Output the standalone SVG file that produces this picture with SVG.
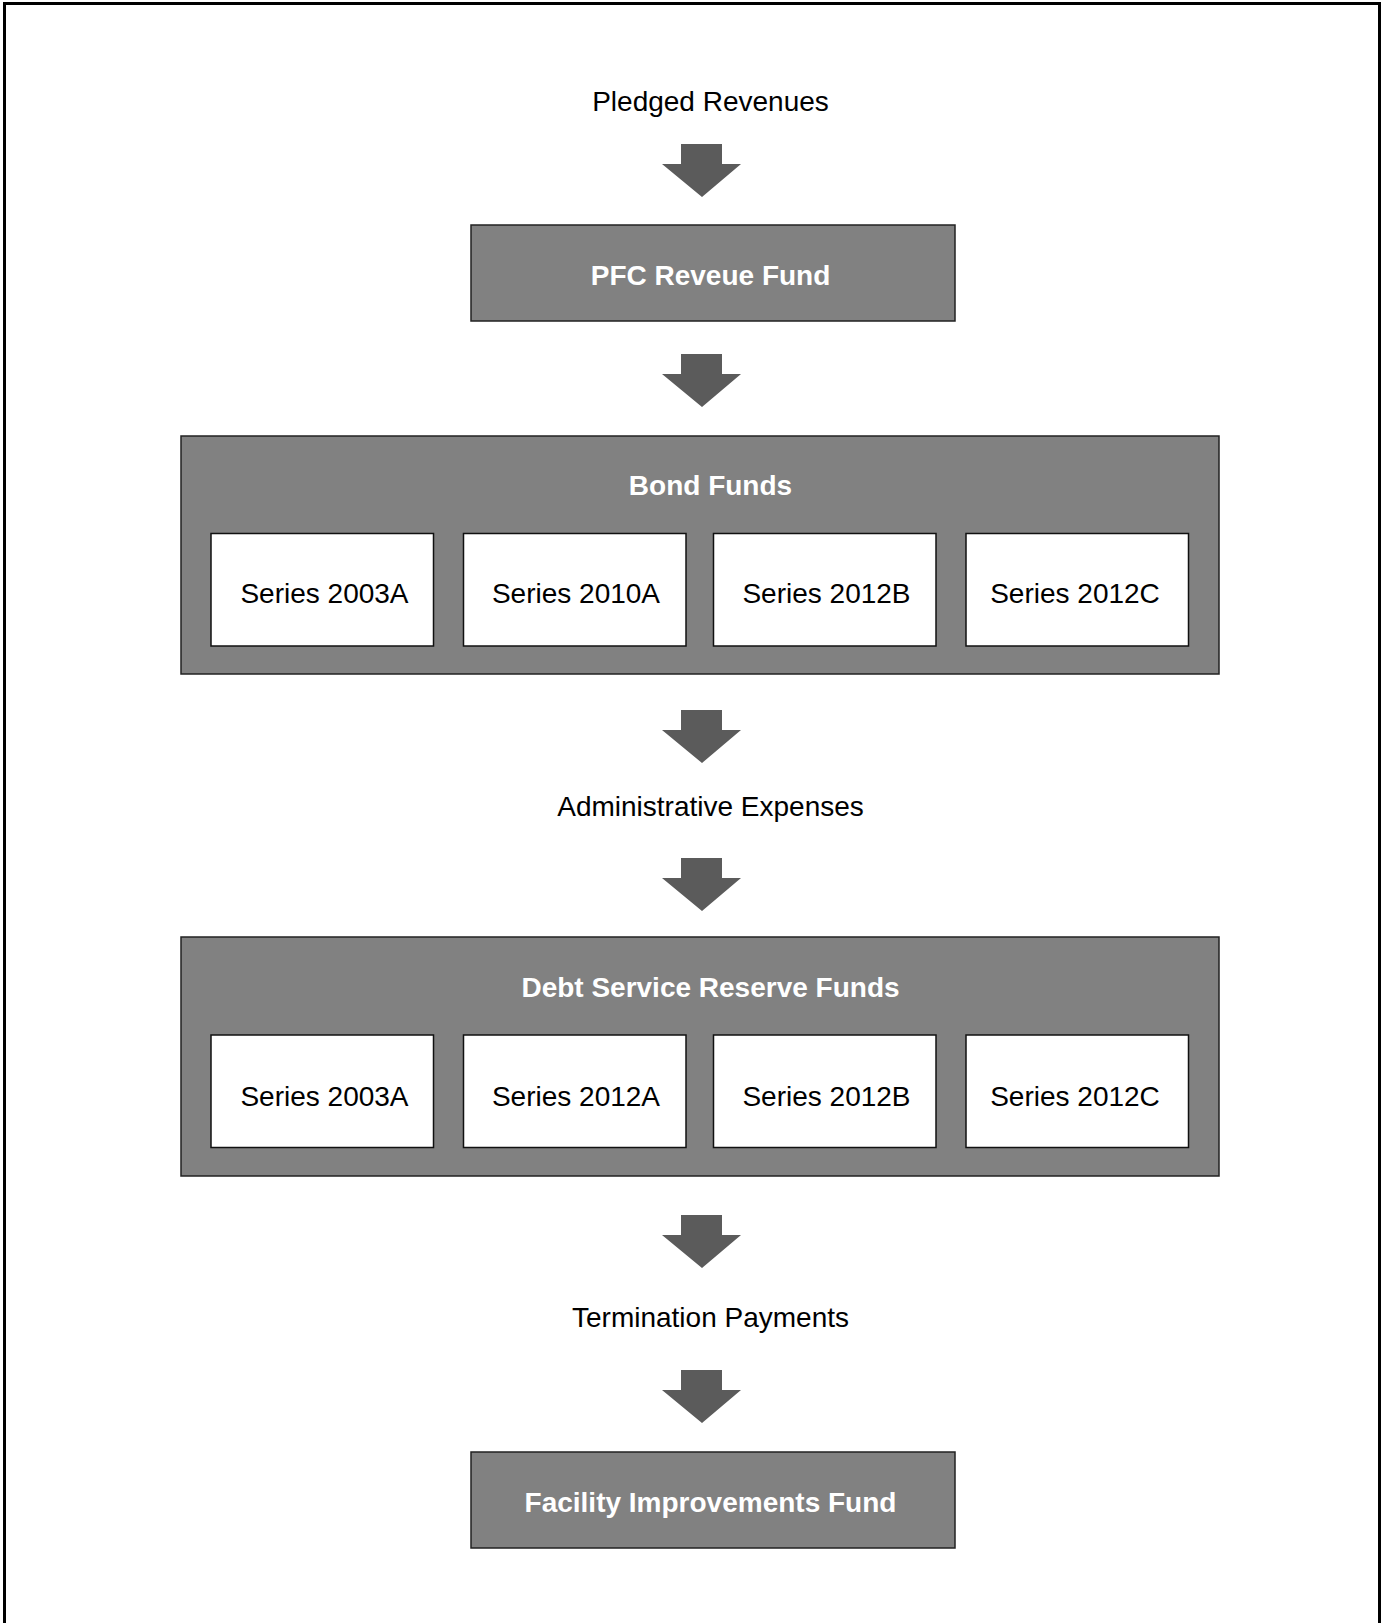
<svg xmlns="http://www.w3.org/2000/svg" xmlns:xlink="http://www.w3.org/1999/xlink" width="1381" height="1623" viewBox="0 0 1381 1623">
  <style>
    .frame { fill: #ffffff; stroke: #000000; stroke-width: 3; }
    .fund { fill: #818181; stroke: #222222; stroke-width: 1.5; }
    .series { fill: #ffffff; stroke: #111111; stroke-width: 1.5; }
    .lbl { font-family: "Liberation Sans", Arial, sans-serif; font-size: 28px; fill: #000000; text-anchor: middle; }
    .title { font-family: "Liberation Sans", Arial, sans-serif; font-size: 28px; font-weight: bold; fill: #ffffff; text-anchor: middle; }
    .arrow { fill: #5b5b5b; }
  </style>
  <defs>
    <path id="downArrow" class="arrow" d="M -21 0 L 20 0 L 20 20 L 39 20 L 0 53 L -40 20 L -21 20 Z"/>
  </defs>

  <rect class="frame" x="4.5" y="3.5" width="1375" height="1640"/>

  <g id="pledged-revenues">
    <text class="lbl" x="710.5" y="111">Pledged Revenues</text>
  </g>

  <g id="pfc-revenue-fund">
    <rect class="fund" x="471" y="225" width="484" height="96"/>
    <text class="title" x="710.5" y="285">PFC Reveue Fund</text>
  </g>

  <g id="bond-funds">
    <rect class="fund" x="181" y="436" width="1038" height="238"/>
    <text class="title" x="710.5" y="495">Bond Funds</text>
    <g id="bond-2003A">
      <rect class="series" x="211" y="533.5" width="222.5" height="112.5"/>
      <text class="lbl" x="324.5" y="603">Series 2003A</text>
    </g>
    <g id="bond-2010A">
      <rect class="series" x="463.5" y="533.5" width="222.5" height="112.5"/>
      <text class="lbl" x="576" y="603">Series 2010A</text>
    </g>
    <g id="bond-2012B">
      <rect class="series" x="713.5" y="533.5" width="222.5" height="112.5"/>
      <text class="lbl" x="826.5" y="603">Series 2012B</text>
    </g>
    <g id="bond-2012C">
      <rect class="series" x="966" y="533.5" width="222.5" height="112.5"/>
      <text class="lbl" x="1075" y="603">Series 2012C</text>
    </g>
  </g>

  <g id="administrative-expenses">
    <text class="lbl" x="710.5" y="816">Administrative Expenses</text>
  </g>

  <g id="debt-service-reserve-funds">
    <rect class="fund" x="181" y="937" width="1038" height="239"/>
    <text class="title" x="710.5" y="997">Debt Service Reserve Funds</text>
    <g id="dsr-2003A">
      <rect class="series" x="211" y="1035" width="222.5" height="112.5"/>
      <text class="lbl" x="324.5" y="1105.5">Series 2003A</text>
    </g>
    <g id="dsr-2012A">
      <rect class="series" x="463.5" y="1035" width="222.5" height="112.5"/>
      <text class="lbl" x="576" y="1105.5">Series 2012A</text>
    </g>
    <g id="dsr-2012B">
      <rect class="series" x="713.5" y="1035" width="222.5" height="112.5"/>
      <text class="lbl" x="826.5" y="1105.5">Series 2012B</text>
    </g>
    <g id="dsr-2012C">
      <rect class="series" x="966" y="1035" width="222.5" height="112.5"/>
      <text class="lbl" x="1075" y="1105.5">Series 2012C</text>
    </g>
  </g>

  <g id="termination-payments">
    <text class="lbl" x="710.5" y="1327">Termination Payments</text>
  </g>

  <g id="facility-improvements-fund">
    <rect class="fund" x="471" y="1452" width="484" height="96"/>
    <text class="title" x="710.5" y="1511.5">Facility Improvements Fund</text>
  </g>

  <g id="connectors">
    <use xlink:href="#downArrow" href="#downArrow" transform="translate(702 144)"/>
    <use xlink:href="#downArrow" href="#downArrow" transform="translate(702 354)"/>
    <use xlink:href="#downArrow" href="#downArrow" transform="translate(702 710)"/>
    <use xlink:href="#downArrow" href="#downArrow" transform="translate(702 858)"/>
    <use xlink:href="#downArrow" href="#downArrow" transform="translate(702 1215)"/>
    <use xlink:href="#downArrow" href="#downArrow" transform="translate(702 1370)"/>
  </g>
</svg>
